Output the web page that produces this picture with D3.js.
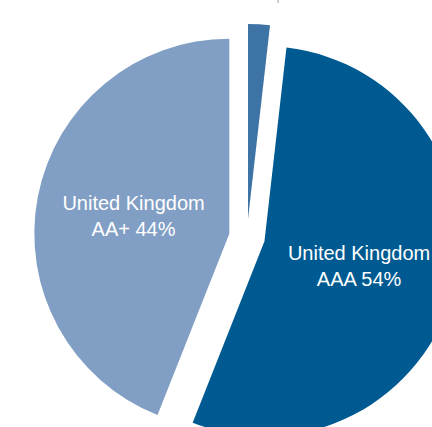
<!DOCTYPE html>
<html>
<head>
<meta charset="utf-8">
<script src="https://cdn.jsdelivr.net/npm/d3@7"></script>
<style>
  html, body { margin: 0; padding: 0; background: #ffffff; overflow: hidden; }
  svg { display: block; }
</style>
</head>
<body>
<svg id="chart" width="432" height="427"></svg>
<script>
// ---- data ----
const categories = ["Other", "AAA", "AA+"];
const labelLine1 = ["", "United Kingdom", "United Kingdom"];
const labelLine2 = ["", "AAA 54%", "AA+ 44%"];
const values = [1.8, 54.2, 44.0];
const colors = ["#3e73a6", "#005a92", "#819ec4"];

// ---- layout ----
const width = 432, height = 427;
const cx = 247, cy = 237;
const radius = 195;
const explode = 18;

const svg = d3.select("#chart");
const g = svg.append("g").attr("transform", `translate(${cx},${cy})`);

const pie = d3.pie().sort(null).value(d => d).startAngle(0).endAngle(2 * Math.PI);
const arcs = pie(values);
const arc = d3.arc().innerRadius(0).outerRadius(radius);

function offset(d) {
  const a = (d.startAngle + d.endAngle) / 2;
  return [Math.sin(a) * explode, -Math.cos(a) * explode];
}

const slices = g.selectAll("g.slice").data(arcs).enter().append("g")
  .attr("class", "slice")
  .attr("transform", d => { const o = offset(d); return `translate(${o[0]},${o[1]})`; });

slices.append("path")
  .attr("d", arc)
  .attr("fill", (d, i) => colors[i]);

// connector for the small slice label (label sits above the visible area)
slices.filter((d, i) => i === 0).append("line")
  .attr("x1", d => Math.sin((d.startAngle + d.endAngle) / 2) * radius + 19)
  .attr("y1", -radius - 21)
  .attr("x2", d => Math.sin((d.startAngle + d.endAngle) / 2) * radius + 20)
  .attr("y2", -radius - 60)
  .attr("stroke", "#a0a0a0")
  .attr("stroke-width", 1);

const labels = slices.filter((d, i) => i > 0).append("text")
  .attr("font-family", "Liberation Sans, Arial, Helvetica, sans-serif")
  .attr("font-size", 20)
  .attr("fill", "#ffffff")
  .attr("text-anchor", "middle")
  .attr("transform", d => { const c = arc.centroid(d); return `translate(${c[0]},${c[1]})`; });

labels.append("tspan").attr("x", 0).attr("y", -5).text(d => labelLine1[d.index]);
labels.append("tspan").attr("x", 0).attr("y", 21).text(d => labelLine2[d.index]);
</script>
</body>
</html>
